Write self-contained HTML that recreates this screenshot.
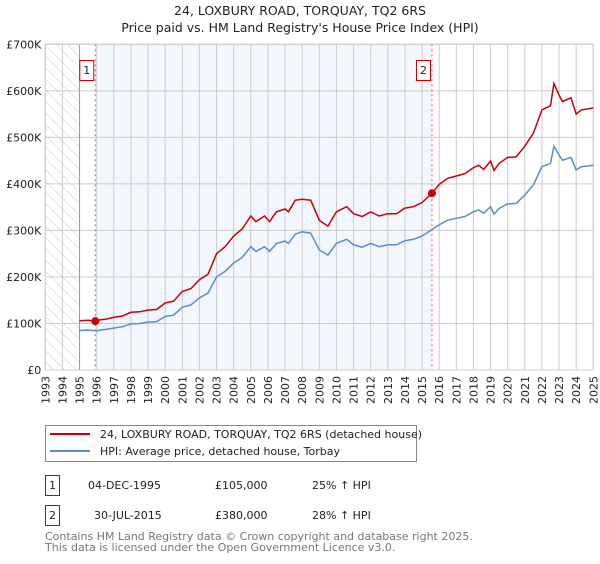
<!DOCTYPE html>
<html><head><meta charset="utf-8">
<style>
body{margin:0;background:#fff;font-family:"DejaVu Sans","Liberation Sans",sans-serif;}
svg text{font-family:"DejaVu Sans","Liberation Sans",sans-serif;}
</style></head>
<body>
<svg id="chart" width="600" height="560" xmlns="http://www.w3.org/2000/svg">
<defs>
<pattern id="hatch" width="8" height="8" patternUnits="userSpaceOnUse" patternTransform="rotate(-45)">
<rect width="8" height="8" fill="#fff"/><line x1="0" y1="0" x2="0" y2="8" stroke="#ccc" stroke-width="1"/>
</pattern>
</defs>
<text x="300" y="15" text-anchor="middle" font-size="12.5" fill="#222">24, LOXBURY ROAD, TORQUAY, TQ2 6RS</text>
<text x="300" y="32" text-anchor="middle" font-size="12.5" fill="#222">Price paid vs. HM Land Registry's House Price Index (HPI)</text>
<g id="plot"></g>
<g>
<rect x="45.5" y="425.5" width="371" height="36" fill="#fff" stroke="#888"/>
<line x1="50" y1="434" x2="90" y2="434" stroke="#cc0000" stroke-width="2"/>
<text x="100" y="438" font-size="11" fill="#222">24, LOXBURY ROAD, TORQUAY, TQ2 6RS (detached house)</text>
<line x1="50" y1="451" x2="90" y2="451" stroke="#5b8bd0" stroke-width="2"/>
<text x="100" y="455" font-size="11" fill="#222">HPI: Average price, detached house, Torbay</text>
</g>
<g>
<rect x="45.5" y="475.5" width="14" height="20" fill="#fff" stroke="#cc0000"/>
<text x="52.5" y="489" text-anchor="middle" font-size="11" fill="#222">1</text>
<text x="88" y="489" font-size="11" fill="#222">04-DEC-1995</text>
<text x="215" y="489" font-size="11" fill="#222">£105,000</text>
<text x="312" y="489" font-size="11" fill="#222">25% ↑ HPI</text>
</g>
<g>
<rect x="45.5" y="505.5" width="14" height="20" fill="#fff" stroke="#cc0000"/>
<text x="52.5" y="519" text-anchor="middle" font-size="11" fill="#222">2</text>
<text x="94" y="519" font-size="11" fill="#222">30-JUL-2015</text>
<text x="215" y="519" font-size="11" fill="#222">£380,000</text>
<text x="312" y="519" font-size="11" fill="#222">28% ↑ HPI</text>
</g>
<text x="45" y="540" font-size="11" fill="#777">Contains HM Land Registry data © Crown copyright and database right 2025.</text>
<text x="45" y="551" font-size="11" fill="#777">This data is licensed under the Open Government Licence v3.0.</text>
</svg>
<script>
const yearTicks=[1993,1994,1995,1996,1997,1998,1999,2000,2001,2002,2003,2004,2005,2006,2007,2008,2009,2010,2011,2012,2013,2014,2015,2016,2017,2018,2019,2020,2021,2022,2023,2024,2025];
const priceTicks=[0,100,200,300,400,500,600,700];
const priceTickLabels=["£0","£100K","£200K","£300K","£400K","£500K","£600K","£700K"];
const hpiDates=[1995.0,1995.5,1996.0,1996.2,1996.5,1997.0,1997.5,1998.0,1998.5,1999.0,1999.5,2000.0,2000.5,2001.0,2001.5,2002.0,2002.5,2003.0,2003.5,2004.0,2004.5,2005.0,2005.3,2005.8,2006.1,2006.5,2007.0,2007.2,2007.6,2008.0,2008.5,2009.0,2009.5,2010.0,2010.6,2011.0,2011.5,2012.0,2012.5,2013.0,2013.5,2014.0,2014.5,2015.0,2015.58,2016.0,2016.5,2017.0,2017.5,2018.0,2018.3,2018.6,2019.0,2019.2,2019.5,2020.0,2020.5,2021.0,2021.5,2022.0,2022.5,2022.7,2023.0,2023.2,2023.7,2024.0,2024.3,2025.0];
const hpiValues=[85,86,84,86,87,90,93,99,100,103,104,115,118,135,140,155,165,200,212,230,242,265,255,265,255,272,277,272,292,297,294,258,247,272,281,269,264,272,265,269,269,278,281,288,302,312,322,326,330,340,344,337,351,335,347,357,358,376,398,437,444,481,462,451,457,430,437,440];
const propertyValues=[106,107,105,108,109,113,116,124,125,129,130,144,148,169,175,194,206,250,265,288,303,331,319,331,319,340,346,340,365,367,365,322,309,340,351,336,330,340,331,336,336,348,351,360,380,399,412,417,422,435,440,431,449,429,444,457,458,481,509,559,568,616,591,577,585,550,559,563];
const saleDates=[1995.92,2015.58];
const salePrices=[105,380];
const saleLabels=["1","2"];

const NS="http://www.w3.org/2000/svg";
const X0=45.3,X1=593.3,Y0=370,Y1=44.3,minYear=1993,maxYear=2025,maxVal=700;
const xs=y=>X0+(y-minYear)/(maxYear-minYear)*(X1-X0);
const ys=v=>Y0-v/maxVal*(Y0-Y1);
const g=document.getElementById('plot');
function mk(tag,attrs){const e=document.createElementNS(NS,tag);for(const k in attrs)e.setAttribute(k,attrs[k]);g.appendChild(e);return e;}

const hatch=mk('rect',{x:X0,y:Y1,width:xs(1995)-X0,height:Y0-Y1,fill:'url(#hatch)'});


const shade=mk('rect',{x:xs(saleDates[0]),y:Y1,width:xs(saleDates[1])-xs(saleDates[0]),height:Y0-Y1,fill:'#f2f6fd'});



yearTicks.forEach(yr=>{
  const l=mk('line',{x1:xs(yr),x2:xs(yr),y1:Y1,y2:Y0,stroke:'#ccc','stroke-width':1});
  
  
  const tx=(xs(yr)+4).toFixed(1), ty=Y0+6;
  const t=mk('text',{x:tx,y:ty,'font-size':11,fill:'#222','text-anchor':'end',transform:'rotate(-90 '+tx+' '+ty+')'});
  t.textContent=yr;
  
  
});
priceTicks.forEach((v,i)=>{
  const l=mk('line',{x1:X0,x2:X1,y1:ys(v),y2:ys(v),stroke:'#ccc','stroke-width':1});
  
  
  const t=mk('text',{x:X0-4,y:ys(v)+4,'font-size':11,fill:'#222','text-anchor':'end'});
  t.textContent=priceTickLabels[i];
  
  
});
const ax=mk('line',{x1:xs(1995),x2:xs(1995),y1:Y1,y2:Y0,stroke:'#999','stroke-width':1});


const border=mk('rect',{x:X0,y:Y1,width:X1-X0,height:Y0-Y1,fill:'none',stroke:'#ccc'});



saleDates.forEach((d,i)=>{
  const l=mk('line',{x1:xs(d),x2:xs(d),y1:Y1,y2:Y0,stroke:'#e06060','stroke-width':1,'stroke-dasharray':'2,3'});
  
  
});

const pts=v=>hpiDates.map((d,i)=>xs(d).toFixed(1)+','+ys(v[i]).toFixed(1)).join(' ');
const hp=mk('polyline',{points:pts(hpiValues),fill:'none',stroke:'#5b8bd0','stroke-width':1.5});


const pp=mk('polyline',{points:pts(propertyValues),fill:'none',stroke:'#cc0000','stroke-width':1.5});



saleDates.forEach((d,i)=>{
  const c=mk('circle',{cx:xs(d),cy:ys(salePrices[i]),r:4,fill:'#cc0000'});
  
  
  const b=mk('rect',{x:xs(d)-15.5,y:60.5,width:14,height:20,fill:'#fff',stroke:'#cc0000'});
  
  
  const t=mk('text',{x:xs(d)-8.5,y:74,'font-size':11,fill:'#222','text-anchor':'middle'});
  t.textContent=saleLabels[i];
  
  
});
</script>
</body></html>
